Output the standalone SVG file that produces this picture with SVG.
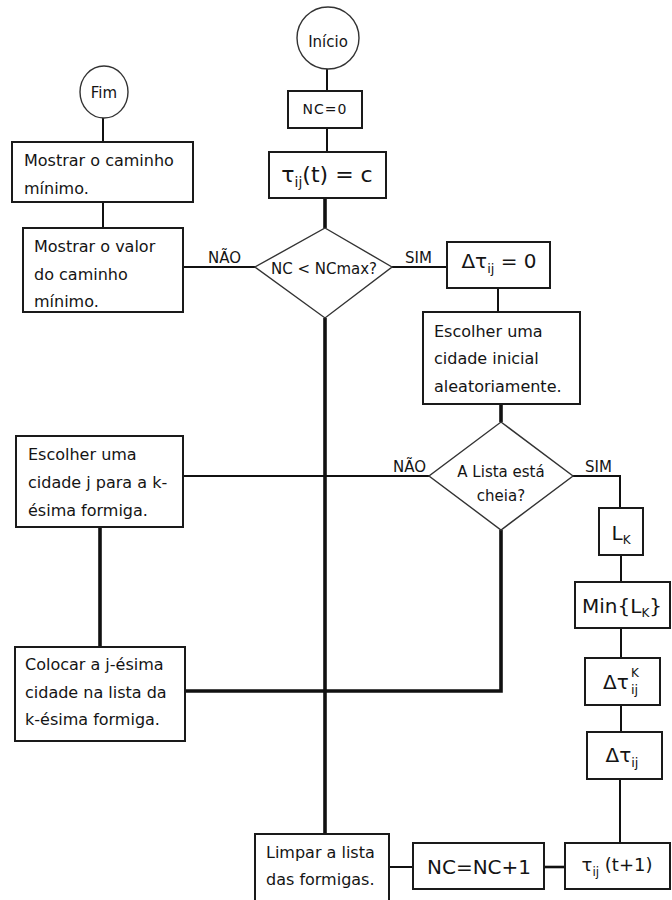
<svg xmlns="http://www.w3.org/2000/svg" width="672" height="900" viewBox="0 0 672 900">
<style>
  .box{fill:#fff;stroke:#1a1a1a;stroke-width:2}
  .term{fill:#fff;stroke:#333;stroke-width:1.4}
  .dec{fill:#fff;stroke:#333;stroke-width:1.4}
  .thin{fill:none;stroke:#111;stroke-width:2}
  .mid{fill:none;stroke:#111;stroke-width:2.6}
  .thick{fill:none;stroke:#111;stroke-width:3.6}
  text{font-family:"DejaVu Sans","Liberation Sans",sans-serif;fill:#141414}
  .t{font-size:16px}
  .lbl{font-size:15px}
  .m{font-size:20px}
  .c{text-anchor:middle}
</style>
<rect width="672" height="900" fill="#fff"/>

<g id="connectors">
  <path class="thin" d="M327 69V91"/>
  <path class="thin" d="M327 128V152"/>
  <path class="thick" d="M325 198V228"/>
  <path class="thick" d="M325 318V834"/>
  <path class="thin" d="M255 267H183"/>
  <path class="thin" d="M392 267H447"/>
  <path class="thin" d="M103 118V142"/>
  <path class="thin" d="M103 202V228"/>
  <path class="thin" d="M498 288V312"/>
  <path class="thick" d="M501 404V422"/>
  <path class="thin" d="M429 476H183"/>
  <path class="thin" d="M573 476H620V508"/>
  <path class="thick" d="M501 530V691H185"/>
  <path class="thick" d="M100 527V647"/>
  <path class="thin" d="M621 555V582"/>
  <path class="thin" d="M621 628V658"/>
  <path class="thin" d="M621 705V732"/>
  <path class="thin" d="M620 779V843"/>
  <path class="mid" d="M565 867H544"/>
  <path class="thin" d="M413 867H389"/>
  <text class="lbl" x="208" y="263">NÃO</text>
  <text class="lbl" x="405" y="263">SIM</text>
  <text class="lbl" x="393" y="472">NÃO</text>
  <text class="lbl" x="585" y="472">SIM</text>
</g>

<g id="inicio">
  <circle class="term" cx="328" cy="38" r="31"/>
  <text class="lbl c" x="328" y="47">Início</text>
</g>

<g id="nc0">
  <rect class="box" x="288" y="91" width="74" height="37"/>
  <text class="c" x="325" y="114" font-size="14" letter-spacing="1">NC=0</text>
</g>

<g id="tau-init">
  <rect class="box" x="269" y="152" width="117" height="46"/>
  <text class="c" x="327" y="182" font-size="22">τ<tspan font-size="14" dy="5">ij</tspan><tspan dy="-5">(t) = c</tspan></text>
</g>

<g id="dec-nc">
  <polygon class="dec" points="325,228 392,267 325,318 255,267"/>
  <text class="lbl c" x="324" y="274">NC &lt; NCmax?</text>
</g>

<g id="fim">
  <ellipse class="term" cx="104" cy="92" rx="24" ry="26"/>
  <text class="lbl c" x="104" y="98">Fim</text>
</g>

<g id="mostrar-caminho">
  <rect class="box" x="12" y="142" width="181" height="60"/>
  <text class="t" x="24" y="166">Mostrar o caminho</text>
  <text class="t" x="24" y="194">mínimo.</text>
</g>

<g id="mostrar-valor">
  <rect class="box" x="23" y="228" width="160" height="84"/>
  <text class="t" x="34" y="252">Mostrar o valor</text>
  <text class="t" x="34" y="280">do caminho</text>
  <text class="t" x="34" y="307">mínimo.</text>
</g>

<g id="dtau-zero">
  <rect class="box" x="447" y="242" width="103" height="46"/>
  <text class="m c" x="499" y="268">Δτ<tspan font-size="13" dy="5">ij</tspan><tspan dy="-5"> = 0</tspan></text>
</g>

<g id="escolher-inicial">
  <rect class="box" x="423" y="312" width="157" height="92"/>
  <text class="t" x="434" y="337">Escolher uma</text>
  <text class="t" x="434" y="364">cidade inicial</text>
  <text class="t" x="434" y="392">aleatoriamente.</text>
</g>

<g id="dec-lista">
  <polygon class="dec" points="501,422 573,476 501,530 429,476"/>
  <text class="lbl c" x="501" y="477">A Lista está</text>
  <text class="lbl c" x="501" y="501">cheia?</text>
</g>

<g id="escolher-j">
  <rect class="box" x="16" y="436" width="167" height="91"/>
  <text class="t" x="28" y="460">Escolher uma</text>
  <text class="t" x="28" y="488">cidade j para a k-</text>
  <text class="t" x="28" y="516">ésima formiga.</text>
</g>

<g id="colocar">
  <rect class="box" x="15" y="647" width="170" height="94"/>
  <text class="t" x="25" y="670">Colocar a j-ésima</text>
  <text class="t" x="25" y="698">cidade na lista da</text>
  <text class="t" x="25" y="725">k-ésima formiga.</text>
</g>

<g id="lk">
  <rect class="box" x="599" y="508" width="44" height="47"/>
  <text class="m c" x="621" y="540">L<tspan font-size="12" dy="4">K</tspan></text>
</g>

<g id="min-lk">
  <rect class="box" x="575" y="582" width="95" height="46"/>
  <text class="m c" x="622" y="613">Min{L<tspan font-size="12" dy="4">K</tspan><tspan dy="-4">}</tspan></text>
</g>

<g id="dtau-k">
  <rect class="box" x="585" y="658" width="75" height="47"/>
  <text class="m" x="603" y="689">Δτ</text>
  <text x="631" y="677" font-size="12">K</text>
  <text x="631" y="694" font-size="13">ij</text>
</g>

<g id="dtau-ij">
  <rect class="box" x="587" y="732" width="75" height="47"/>
  <text class="m c" x="622" y="762">Δτ<tspan font-size="13" dy="5">ij</tspan></text>
</g>

<g id="limpar">
  <rect class="box" x="255" y="834" width="134" height="70"/>
  <text class="t" x="266" y="858">Limpar a lista</text>
  <text class="t" x="266" y="885">das formigas.</text>
</g>

<g id="nc-inc">
  <rect class="box" x="413" y="843" width="131" height="46"/>
  <text class="m c" x="479" y="874">NC=NC+1</text>
</g>

<g id="tau-next">
  <rect class="box" x="565" y="843" width="105" height="46"/>
  <text class="c" x="617" y="871" font-size="18">τ<tspan font-size="12" dy="5">ij</tspan><tspan dy="-5"> (t+1)</tspan></text>
</g>
</svg>
